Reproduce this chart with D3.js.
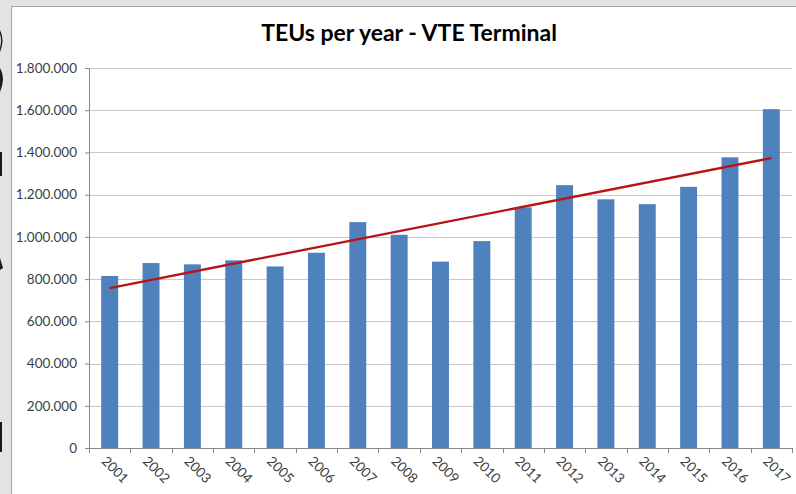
<!DOCTYPE html>
<html>
<head>
<meta charset="utf-8">
<script src="https://cdn.jsdelivr.net/npm/d3@7"></script>
<style>
    body { margin: 0; background: #e3e3e3; }
    svg { display: block; }
    .tick-label { font-family: Lato, "Open Sans", sans-serif; font-size: 13.5px; fill: #404040; }
</style>
</head>
<body>
<svg id="chart" width="796" height="494"></svg>
<script>
var years = ['2001', '2002', '2003', '2004', '2005', '2006', '2007', '2008', '2009',
    '2010', '2011', '2012', '2013', '2014', '2015', '2016', '2017'];
var teus = [815000, 876000, 870000, 889000, 860000, 925000, 1070000, 1010000, 883000,
    980000, 1140000, 1245000, 1178000, 1155000, 1237000, 1377000, 1605000];
var yTicks = [0, 200000, 400000, 600000, 800000, 1000000, 1200000, 1400000, 1600000, 1800000];
var chartTitle = 'TEUs per year - VTE Terminal';

var svg = d3.select('#chart');

// slide background + white chart panel
svg.append('rect').attr('x', 0).attr('y', 0).attr('width', 796).attr('height', 494).attr('fill', '#e3e3e3');
svg.append('rect').attr('x', 11.5).attr('y', 6.5).attr('width', 790).attr('height', 495)
    .attr('fill', '#ffffff').attr('stroke', '#a6a6a6');

// bits of slide text cut off at the left edge
var g0 = svg.append('g').attr('fill', '#1a1a1a');
g0.append('path').attr('d', 'M0,30 Q5,40 0,52 L0,48 Q2,40 0,34 Z');
g0.append('path').attr('d', 'M0,68 Q6,78 0,92 Z');
g0.append('rect').attr('x', 0).attr('y', 152).attr('width', 2).attr('height', 24);
g0.append('path').attr('d', 'M0,258 L3,268 L0,270 Z');
g0.append('rect').attr('x', 0).attr('y', 422).attr('width', 2).attr('height', 30);

var margin = {left: 89, right: 4, top: 68, bottom: 46};
var width = 796 - margin.left - margin.right;
var height = 494 - margin.top - margin.bottom;

var x = d3.scaleBand().domain(years).range([0, width]).paddingInner(0.59).paddingOuter(0.295);
var xb = d3.scaleBand().domain(years).range([0, width]);
var y = d3.scaleLinear().domain([0, 1800000]).range([height, 0]);

var g = svg.append('g').attr('transform', 'translate(' + margin.left + ',' + margin.top + ')');

// title
svg.append('text').attr('x', 409).attr('y', 41).attr('text-anchor', 'middle')
    .style('font-family', 'Lato, "Open Sans", sans-serif').style('font-weight', 'bold')
    .style('font-size', '23px').attr('fill', '#000').text(chartTitle);

// gridlines
g.selectAll('.grid').data(yTicks.slice(1)).enter().append('line')
    .attr('x1', 0).attr('x2', width)
    .attr('y1', function(d) { return Math.round(y(d)) + 0.5; })
    .attr('y2', function(d) { return Math.round(y(d)) + 0.5; })
    .attr('stroke', '#c8c8c8');

// y axis
var yAxis = d3.axisLeft(y).tickValues(yTicks).tickSize(4).tickPadding(8)
    .tickFormat(function(d) { return d === 0 ? '0' : d3.format(',')(d).replace(/,/g, '.'); });
var ya = g.append('g').call(yAxis);
ya.select('.domain').attr('stroke', '#868686');
ya.selectAll('.tick line').attr('stroke', '#868686');
ya.selectAll('.tick text').attr('class', 'tick-label').attr('font-family', null).attr('font-size', null);

// bars
g.selectAll('.bar').data(teus).enter().append('rect')
    .attr('x', function(d, i) { return x(years[i]); })
    .attr('width', x.bandwidth())
    .attr('y', function(d) { return y(d); })
    .attr('height', function(d) { return height - y(d); })
    .attr('fill', '#4f81bd');

// linear trendline (least squares over the data)
var n = teus.length;
var mx = d3.mean(d3.range(n)), my = d3.mean(teus);
var sxy = d3.sum(teus, function(d, i) { return (i - mx) * (d - my); });
var sxx = d3.sum(d3.range(n), function(i) { return (i - mx) * (i - mx); });
var slope = sxy / sxx, icpt = my - slope * mx;
g.append('line')
    .attr('x1', x(years[0]) + x.bandwidth() / 2).attr('y1', y(icpt))
    .attr('x2', x(years[n - 1]) + x.bandwidth() / 2).attr('y2', y(icpt + slope * (n - 1)))
    .attr('stroke', '#b81418').attr('stroke-width', 2.3);

// x axis
var xa = g.append('g').attr('transform', 'translate(0,' + height + ')');
xa.append('line').attr('x1', 0).attr('x2', width).attr('y1', 0.5).attr('y2', 0.5).attr('stroke', '#868686');
xa.selectAll('.xt').data(years.concat(['end'])).enter().append('line')
    .attr('x1', function(d, i) { return Math.round(i * xb.step()) + 0.5; })
    .attr('x2', function(d, i) { return Math.round(i * xb.step()) + 0.5; })
    .attr('y1', 0).attr('y2', 5).attr('stroke', '#868686');
xa.selectAll('.xl').data(years).enter().append('text')
    .attr('class', 'tick-label')
    .attr('transform', function(d) {
        return 'translate(' + (xb(d) + xb.bandwidth() / 2 - 9) + ',14) rotate(45)';
    })
    .text(function(d) { return d; });
</script>
</body>
</html>
